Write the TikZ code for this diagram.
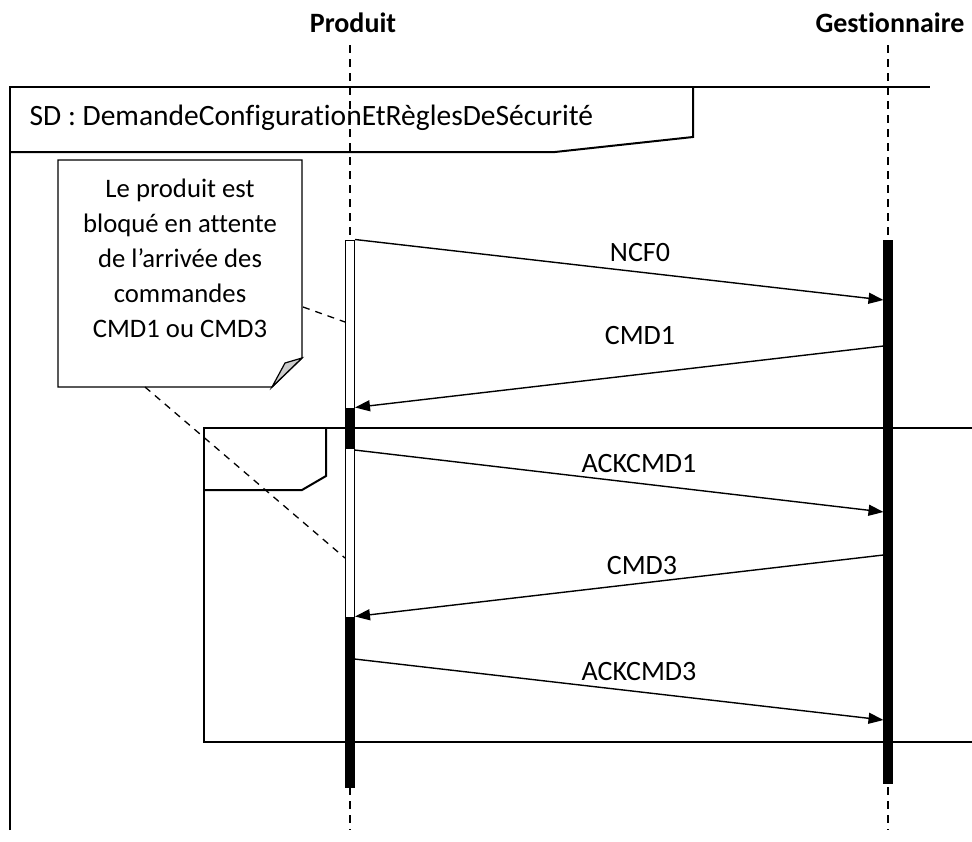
\documentclass[tikz,border=0pt]{standalone}
\usepackage{fontspec}
\setmainfont{Carlito}[Ligatures=NoCommon]
\usetikzlibrary{arrows.meta}

\begin{document}
\begin{tikzpicture}[x=1pt, y=-1pt, >={Triangle[length=15pt,width=11pt]}, line width=1.4pt,
    every node/.style={font=\fontsize{28}{34}\selectfont, inner sep=0pt},
    lifeline/.style={dash pattern=on 8pt off 6pt, line width=1.3pt},
    actblack/.style={draw, fill=black, minimum width=9pt, line width=1pt},
    actwhite/.style={draw, fill=white, minimum width=9pt, line width=1pt},
    msg/.style={->, line width=1.4pt}]
    \useasboundingbox (0,0) rectangle (972,841);

    % lifelines
    \node[font=\fontsize{28}{34}\selectfont\bfseries] (produit) at (353,23) {Produit};
    \node[font=\fontsize{28}{34}\selectfont\bfseries] (gest) at (890,23) {Gestionnaire};
    \coordinate (pend) at (350,830);
    \coordinate (gend) at (888,830);
    \draw[lifeline] (350,45) -- (pend);
    \draw[lifeline] (888,45) -- (gend);

    % cadre SD
    \draw[line width=2pt] (10,830) -- (10,87) -- (930,87);
    \draw[line width=2pt] (10,152) -- (555,152) -- (693,137) -- (693,87);
    \node[anchor=west, font=\fontsize{29.5}{34}\selectfont] (sd) at (29,118) {SD : DemandeConfigurationEtRèglesDeSécurité};

    % fragment
    \draw[line width=2pt] (972,428) -- (204,428) -- (204,742) -- (972,742);
    \draw[line width=2pt] (326,428) -- (326,476) -- (302,490) -- (204,490);

    % note
    \draw[line width=1.4pt, fill=white] (58,160) -- (302,160) -- (302,358) -- (272,387) -- (58,387) -- cycle;
    \draw[line width=1.2pt, fill=gray!40] (302,358) -- (285,363) -- (272,387) -- cycle;
    \node[align=center, font=\fontsize{26.7}{35}\selectfont] (note) at (180,258) {Le produit est\\bloqué en attente\\de l’arrivée des\\commandes\\CMD1 ou CMD3};
    \coordinate (n1) at (303,307);
    \coordinate (n2) at (145,387);

    % activations
    \node[actwhite, minimum height=168pt] (pw1) at (350,324) {};
    \node[actblack, minimum height=40pt] (pb1) at (350,428) {};
    \node[actwhite, minimum height=169pt] (pw2) at (350,532.5) {};
    \node[actblack, minimum height=170pt] (pb2) at (350,702) {};
    \node[actblack, minimum height=543pt] (gact) at (888,511.5) {};

    \draw[dash pattern=on 7pt off 6pt, line width=1.3pt] (n1) -- (pw1.west |- 0,322);
    \draw[dash pattern=on 7pt off 6pt, line width=1.3pt] (n2) -- (pw2.west |- 0,558);

    % messages
    \coordinate (m1e) at (883.5,300);
    \coordinate (m2s) at (883.5,346);
    \coordinate (m3s) at (354.5,450);
    \coordinate (m3e) at (883.5,512);
    \coordinate (m4s) at (883.5,555);
    \coordinate (m5s) at (354.5,659);
    \coordinate (m5e) at (883.5,720);

    \draw[msg] (pw1.north east) -- (m1e);
    \draw[msg] (m2s) -- (pb1.north east);
    \draw[msg] (m3s) -- (m3e);
    \draw[msg] (m4s) -- (pb2.north east);
    \draw[msg] (m5s) -- (m5e);

    \node (l1) at (640,253) {NCF0};
    \node (l2) at (640,336) {CMD1};
    \node (l3) at (639,464) {ACKCMD1};
    \node (l4) at (642,566) {CMD3};
    \node (l5) at (639,672) {ACKCMD3};
\end{tikzpicture}
\end{document}
